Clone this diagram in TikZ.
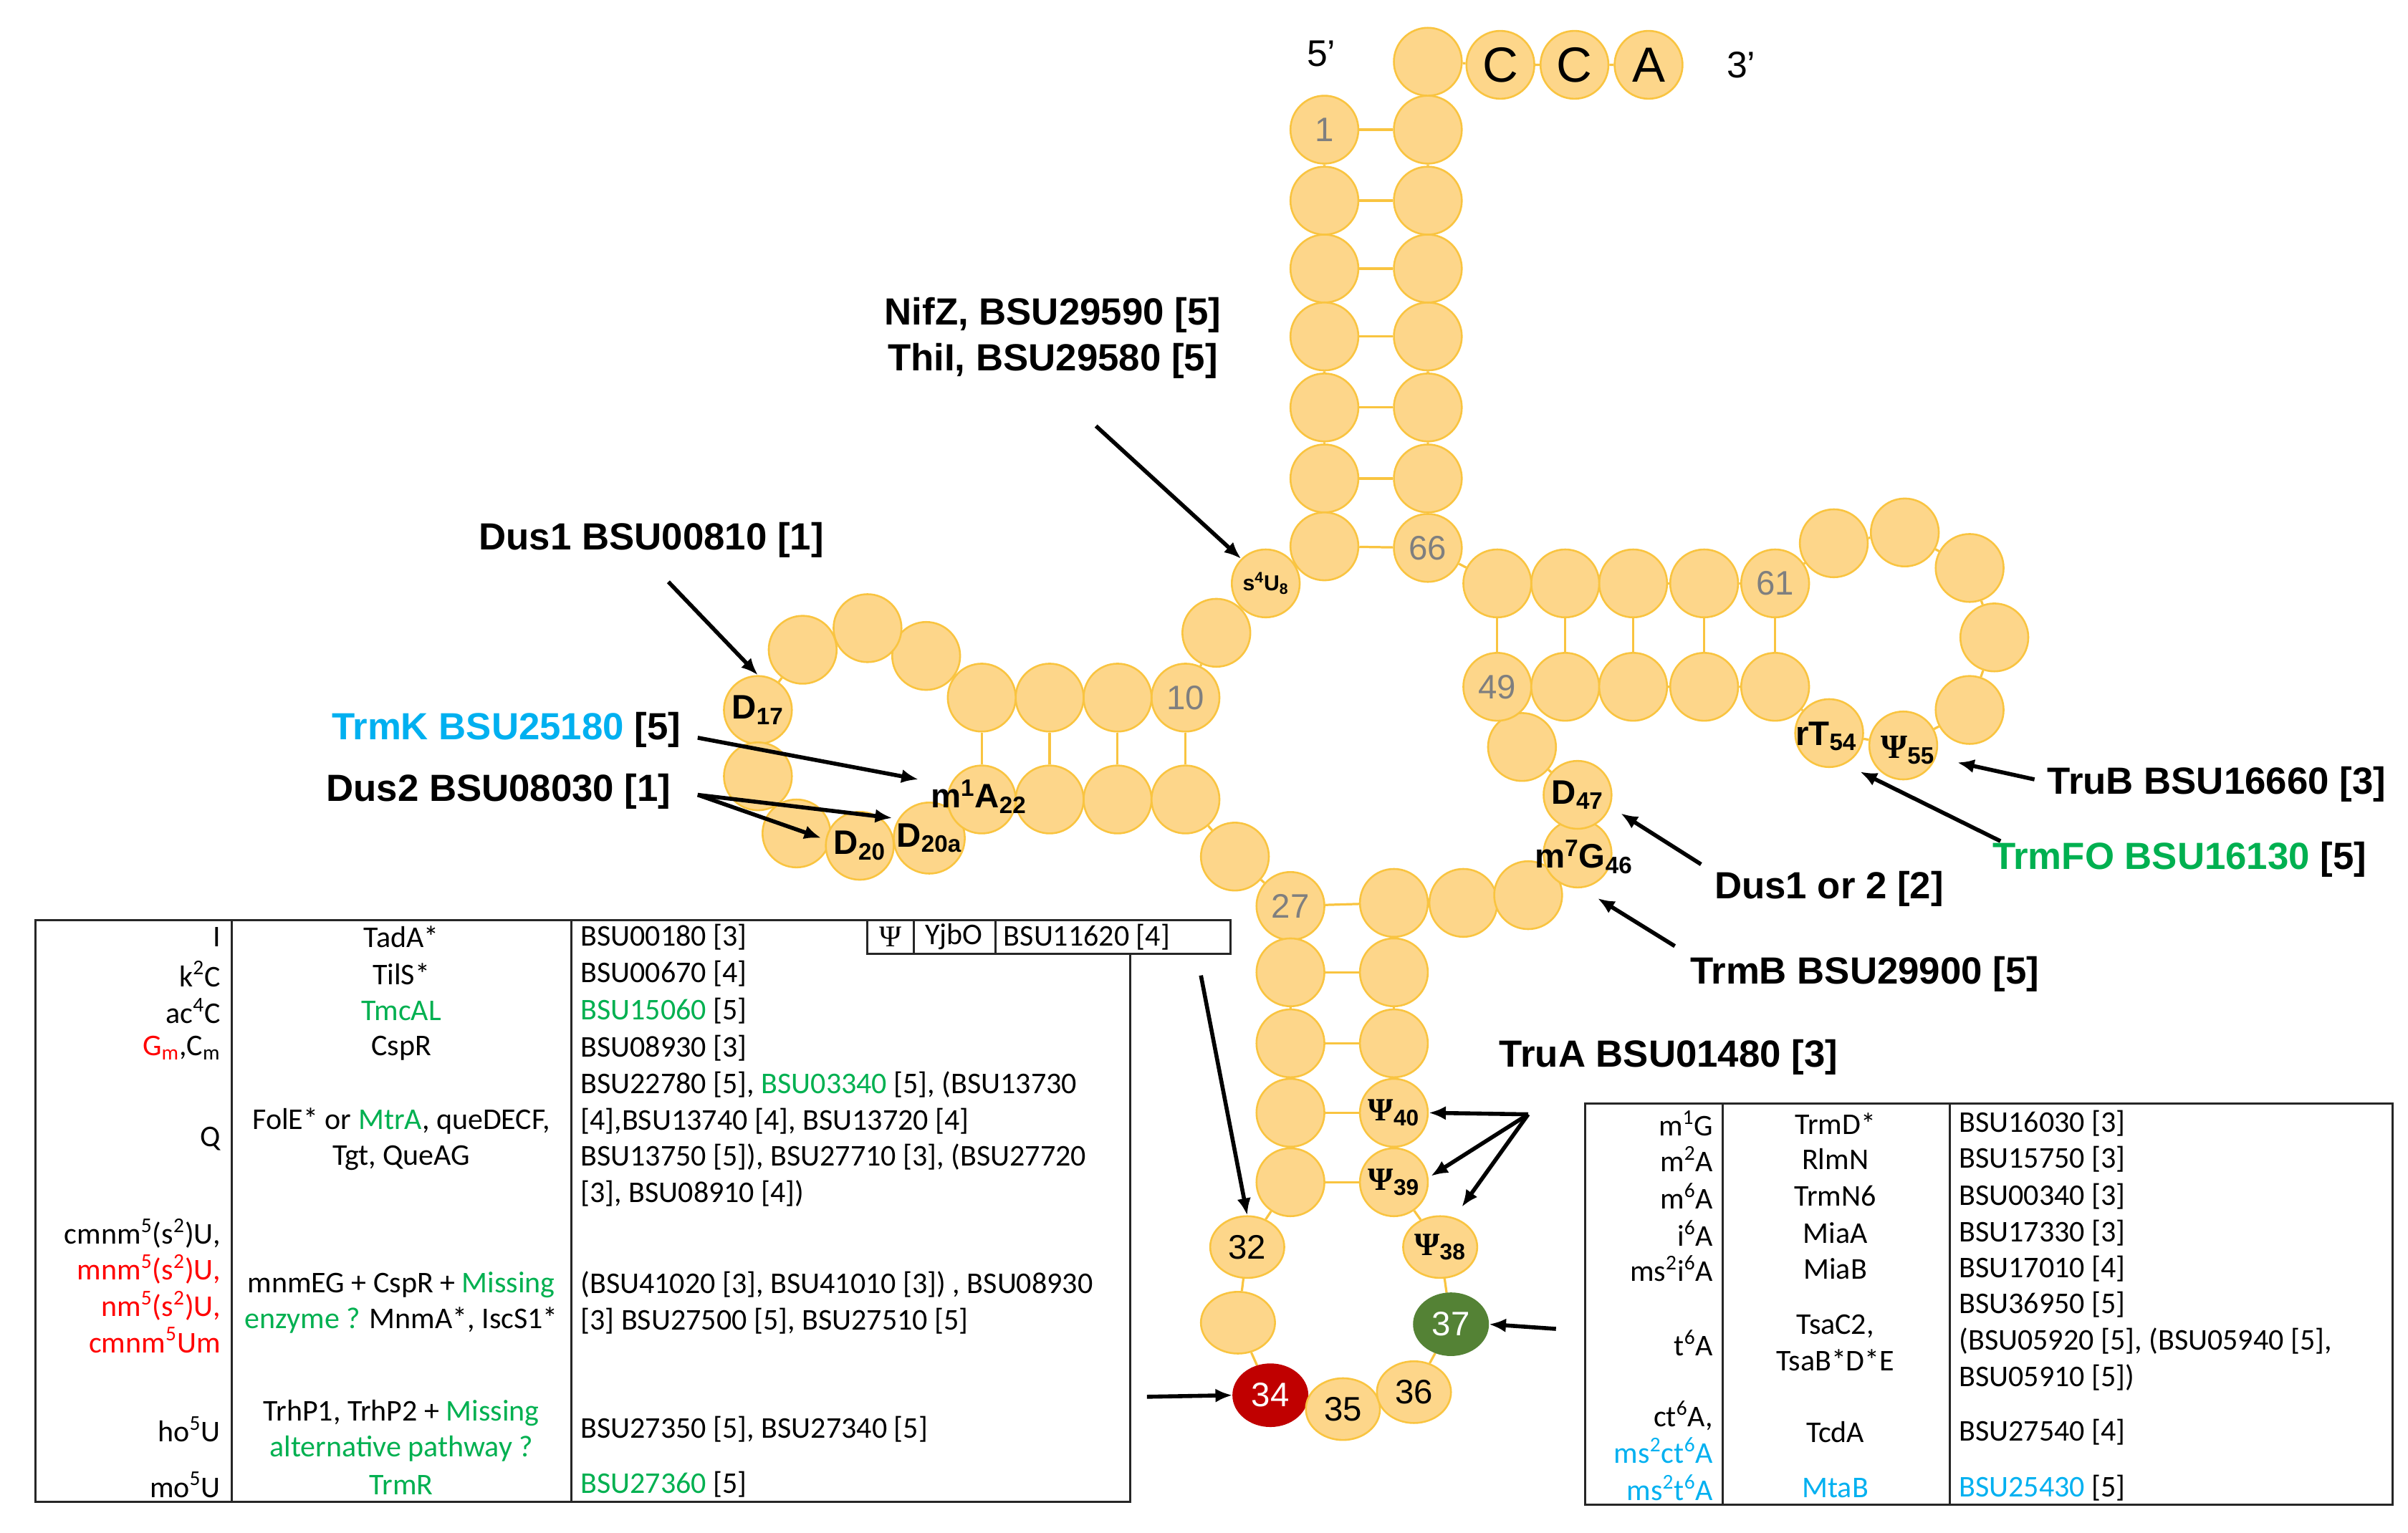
\documentclass[tikz,border=0pt]{standalone}
\usepackage{fontspec}
\setmainfont{Liberation Sans}
\newfontfamily\tabf{Carlito}
\newfontfamily\psif{Liberation Serif}
\usetikzlibrary{backgrounds,shapes.geometric,arrows.meta}
\definecolor{nfill}{HTML}{FDD68A}
\definecolor{nline}{HTML}{F9C440}
\definecolor{tgreen}{HTML}{00B050}
\definecolor{tcyan}{HTML}{00B0F0}
\definecolor{tred}{HTML}{FF0000}
\definecolor{ngray}{HTML}{7F7F7F}
\definecolor{dred}{HTML}{C00000}
\definecolor{dgreen}{HTML}{548235}
\newcommand{\psis}{{\psif Ψ}}
\begin{document}
\begin{tikzpicture}[x=1pt,y=-1pt,
  nt/.style={circle,minimum size=44pt,inner sep=0pt,fill=nfill,draw=nline,line width=1.2pt,font=\fontsize{22}{22}\selectfont\color{ngray}},
  ac/.style={ellipse,minimum width=48pt,minimum height=40pt,inner sep=0pt,fill=nfill,draw=nline,line width=1.2pt,font=\fontsize{22}{22}\selectfont},
  bb/.style={draw=nline,line width=1.5pt},
  lab/.style={font=\fontsize{24.5}{30}\selectfont\bfseries,align=center,inner sep=0pt},
  mod/.style={font=\fontsize{22}{22}\selectfont\bfseries,inner sep=0pt,text=black},
  arr/.style={-{Latex[length=11pt,width=9pt]},line width=2.6pt},
  tx/.style={font=\tabf\fontsize{19.5}{23.5}\selectfont,inner sep=0pt},
  tl/.style={tx,anchor=east,align=right},
  tc/.style={tx,align=center},
  tr/.style={tx,anchor=west,align=left},
  box/.style={draw=black!85,line width=1.4pt}]
\useasboundingbox (0,0) rectangle (1560,993);
% acceptor stem
\node[nt] (n1) at (858,84) {1};
\node[nt] (n2) at (858,130) {};
\node[nt] (n3) at (858,174) {};
\node[nt] (n4) at (858,218) {};
\node[nt] (n5) at (858,264) {};
\node[nt] (n6) at (858,310) {};
\node[nt] (n7) at (858,354) {};
\node[nt,text=black,font=\fontsize{14}{14}\selectfont\bfseries] (n8) at (820,378) {s\textsuperscript{4}U\textsubscript{8}};
\node[nt] (n9) at (788,410) {};
\node[nt] (n10) at (768,452) {10};
\node[nt] (n11) at (724,452) {};
\node[nt] (n12) at (680,452) {};
\node[nt] (n13) at (636,452) {};
\node[nt] (n14) at (600,425) {};
\node[nt] (n15) at (562,407) {};
\node[nt] (n16) at (520,421) {};
\node[nt,text=black,font=\fontsize{22}{22}\selectfont\bfseries] (n17) at (491,460) {D\textsubscript{17}};
\node[nt] (n18) at (491,503) {};
\node[nt] (n19) at (516,540) {};
\node[nt,text=black,font=\fontsize{22}{22}\selectfont\bfseries] (n20) at (557,548) {D\textsubscript{20}};
\node[nt,text=black,font=\fontsize{22}{22}\selectfont\bfseries] (n20a) at (602,543) {D\textsubscript{20a}};
\node[nt] (n22) at (636,518) {};
\node[nt] (n23) at (680,518) {};
\node[nt] (n24) at (724,518) {};
\node[nt] (n25) at (768,518) {};
\node[nt] (n26) at (800,555) {};
\node[nt] (n27) at (836,587) {27};
\node[nt] (n28) at (836,630) {};
\node[nt] (n29) at (836,676) {};
\node[nt] (n30) at (836,721) {};
\node[nt] (n31) at (836,766) {};
\node[ac] (n32) at (808,808) {32};
\node[ac] (n33) at (802,857) {};
\node[ac,fill=dred,draw=dred,text=white] (n34) at (823,904) {34};
\node[ac] (n35) at (870,913) {35};
\node[ac] (n36) at (916,902) {36};
\node[ac,fill=dgreen,draw=dgreen,text=white] (n37) at (940,858) {37};
\node[ac,font=\fontsize{21}{21}\selectfont\bfseries] (n38) at (933,808) {\psis\textsubscript{38}};
\node[nt,text=black,font=\fontsize{21}{21}\selectfont\bfseries] (n39) at (903,766) {\psis\textsubscript{39}};
\node[nt,text=black,font=\fontsize{21}{21}\selectfont\bfseries] (n40) at (903,721) {\psis\textsubscript{40}};
\node[nt] (n41) at (903,676) {};
\node[nt] (n42) at (903,630) {};
\node[nt] (n43) at (903,585) {};
\node[nt] (n44) at (948,585) {};
\node[nt] (n45) at (990,580) {};
\node[nt] (n46) at (1022,553) {};
\node[nt,text=black,font=\fontsize{22}{22}\selectfont\bfseries] (n47) at (1022,515) {D\textsubscript{47}};
\node[nt] (n48) at (986,484) {};
\node[nt] (n49) at (970,445) {49};
\node[nt] (n50) at (1014,445) {};
\node[nt] (n51) at (1058,445) {};
\node[nt] (n52) at (1104,445) {};
\node[nt] (n53) at (1150,445) {};
\node[nt] (n54) at (1185,475) {};
\node[nt] (n55) at (1233,483) {};
\node[nt] (n56) at (1276,460) {};
\node[nt] (n57) at (1292,413) {};
\node[nt] (n58) at (1276,368) {};
\node[nt] (n59) at (1234,345) {};
\node[nt] (n60) at (1188,352) {};
\node[nt] (n61) at (1150,378) {61};
\node[nt] (n62) at (1104,378) {};
\node[nt] (n63) at (1058,378) {};
\node[nt] (n64) at (1014,378) {};
\node[nt] (n65) at (970,378) {};
\node[nt] (n66) at (925,355) {66};
\node[nt] (n67) at (925,310) {};
\node[nt] (n68) at (925,264) {};
\node[nt] (n69) at (925,218) {};
\node[nt] (n70) at (925,174) {};
\node[nt] (n71) at (925,130) {};
\node[nt] (n72) at (925,84) {};
\node[nt] (n73) at (925,40) {};
\node[nt,text=black,font=\fontsize{32}{32}\selectfont] (n74) at (972,42) {C};
\node[nt,text=black,font=\fontsize{32}{32}\selectfont] (n75) at (1020,42) {C};
\node[nt,text=black,font=\fontsize{32}{32}\selectfont] (n76) at (1068,42) {A};
% modification labels overlapping circles
\node[mod] (m22) at (634,516) {m\textsuperscript{1}A\textsubscript{22}};
\node[mod] (m46) at (1026,555) {m\textsuperscript{7}G\textsubscript{46}};
\node[mod] (m54) at (1183,477) {rT\textsubscript{54}};
\node[mod] (m55) at (1236,486) {\psis\textsubscript{55}};
\node[font=\fontsize{24}{24}\selectfont,inner sep=0pt] (p5) at (856,35) {5’};
\node[font=\fontsize{24}{24}\selectfont,inner sep=0pt] (p3) at (1128,42) {3’};
% backbone and pairs
\begin{scope}[on background layer]
\draw[bb] (n1)--(n2)--(n3)--(n4)--(n5)--(n6)--(n7)--(n8)--(n9)--(n10)--(n11)--(n12)--(n13)--(n14)--(n15)--(n16)--(n17)--(n18)--(n19)--(n20)--(n20a)--(n22)--(n23)--(n24)--(n25)--(n26)--(n27)--(n28)--(n29)--(n30)--(n31)--(n32)--(n33)--(n34)--(n35)--(n36)--(n37)--(n38)--(n39)--(n40)--(n41)--(n42)--(n43)--(n44)--(n45)--(n46)--(n47)--(n48)--(n49)--(n50)--(n51)--(n52)--(n53)--(n54)--(n55)--(n56)--(n57)--(n58)--(n59)--(n60)--(n61)--(n62)--(n63)--(n64)--(n65)--(n66)--(n67)--(n68)--(n69)--(n70)--(n71)--(n72)--(n73)--(n74)--(n75)--(n76);
\foreach \a/\b in {n1/n72,n2/n71,n3/n70,n4/n69,n5/n68,n6/n67,n7/n66,n10/n25,n11/n24,n12/n23,n13/n22,n27/n43,n28/n42,n29/n41,n30/n40,n31/n39,n49/n65,n50/n64,n51/n63,n52/n62,n53/n61}
  \draw[bb] (\a)--(\b);
\end{scope}
% enzyme labels and arrows
\node[lab] (nif) at (682,219) {NifZ, BSU29590 [5]\\ThiI, BSU29580 [5]};
\coordinate (nifa) at (710,276);
\draw[arr] (nifa) -- (n8.north west);
\node[lab] (dus1) at (422,350) {Dus1 BSU00810 [1]};
\coordinate (dus1a) at (433,377);
\draw[arr] (dus1a) -- (n17.north);
\node[lab] (trmk) at (328,473) {\textcolor{tcyan}{TrmK BSU25180} [5]};
\coordinate (trmka) at (452,478);
\coordinate (trmkb) at (595,505);
\draw[arr] (trmka) -- (trmkb);
\node[lab] (dus2) at (323,513) {Dus2 BSU08030 [1]};
\coordinate (dus2a) at (452,515);
\coordinate (dus2b) at (532,543);
\coordinate (dus2c) at (578,530);
\draw[arr] (dus2a) -- (dus2b);
\draw[arr] (dus2a) -- (dus2c);
\node[lab] (trub) at (1436,508) {TruB BSU16660 [3]};
\coordinate (truba) at (1318,505);
\coordinate (trubb) at (1268,494);
\draw[arr] (truba) -- (trubb);
\node[lab] (trmfo) at (1412,557) {\textcolor{tgreen}{TrmFO BSU16130} [5]};
\coordinate (trmfoa) at (1296,545);
\coordinate (trmfob) at (1205,500);
\draw[arr] (trmfoa) -- (trmfob);
\node[lab] (dus12) at (1185,576) {Dus1 or 2 [2]};
\coordinate (dus12a) at (1102,560);
\coordinate (dus12b) at (1050,527);
\draw[arr] (dus12a) -- (dus12b);
\node[lab] (trmb) at (1208,631) {TrmB BSU29900 [5]};
\coordinate (trmba) at (1085,613);
\coordinate (trmbb) at (1035,582);
\draw[arr] (trmba) -- (trmbb);
\node[lab] (trua) at (1081,685) {TruA BSU01480 [3]};
\coordinate (truaa) at (990,722);
\coordinate (truab) at (927,762);
\coordinate (truac) at (947,782);
\draw[arr] (truaa) -- (n40.east);
\draw[arr] (truaa) -- (truab);
\draw[arr] (truaa) -- (truac);
\coordinate (a37) at (1008,861);
\draw[arr] (a37) -- (n37.east);
\coordinate (a34) at (743,905);
\draw[arr] (a34) -- (n34.west);
\coordinate (a32) at (778,632);
\draw[arr] (a32) -- (n32.north);
% left table
\draw[box] (23,596) rectangle (732,973);
\draw[box] (150,596) -- (150,973);
\draw[box] (370,596) -- (370,973);
\draw[box,fill=white] (562,596) rectangle (797,618);
\draw[box] (592,596) -- (592,618);
\draw[box] (645,596) -- (645,618);
\node[tc] (psi) at (577,607) {\psis};
\node[tc] (yjbo) at (618,607) {YjbO};
\node[tr] (bsu11620) at (650,607) {BSU11620 [4]};
\node[tl] (l1a) at (143,607) {I};
\node[tc] (l1b) at (260,607) {TadA*};
\node[tr] (l1c) at (376,607) {BSU00180 [3]};
\node[tl] (l2a) at (143,631) {k\textsuperscript{2}C};
\node[tc] (l2b) at (260,631) {TilS*};
\node[tr] (l2c) at (376,631) {BSU00670 [4]};
\node[tl] (l3a) at (143,655) {ac\textsuperscript{4}C};
\node[tc,text=tgreen] (l3b) at (260,655) {TmcAL};
\node[tr] (l3c) at (376,655) {\textcolor{tgreen}{BSU15060} [5]};
\node[tl] (l4a) at (143,679) {\textcolor{tred}{G\textsubscript{m}},C\textsubscript{m}};
\node[tc] (l4b) at (260,679) {CspR};
\node[tr] (l4c) at (376,679) {BSU08930 [3]};
\node[tl] (l5a) at (143,738) {Q};
\node[tc] (l5b) at (260,738) {FolE* or \textcolor{tgreen}{MtrA}, queDECF,\\Tgt, QueAG};
\node[tr] (l5c) at (376,738) {BSU22780 [5], \textcolor{tgreen}{BSU03340} [5], (BSU13730\\{}[4],BSU13740 [4], BSU13720 [4]\\BSU13750 [5]), BSU27710 [3], (BSU27720\\{}[3], BSU08910 [4])};
\node[tl] (l6a) at (143,833) {cmnm\textsuperscript{5}(s\textsuperscript{2})U,\\\textcolor{tred}{mnm\textsuperscript{5}(s\textsuperscript{2})U,}\\\textcolor{tred}{nm\textsuperscript{5}(s\textsuperscript{2})U,}\\\textcolor{tred}{cmnm\textsuperscript{5}Um}};
\node[tc] (l6b) at (260,844) {mnmEG + CspR + \textcolor{tgreen}{Missing}\\\textcolor{tgreen}{enzyme ?} MnmA*, IscS1*};
\node[tr] (l6c) at (376,844) {(BSU41020 [3], BSU41010 [3]) , BSU08930\\{}[3] BSU27500 [5], BSU27510 [5]};
\node[tl] (l7a) at (143,926) {ho\textsuperscript{5}U};
\node[tc] (l7b) at (260,927) {TrhP1, TrhP2 + \textcolor{tgreen}{Missing}\\\textcolor{tgreen}{alternative pathway ?}};
\node[tr] (l7c) at (376,926) {BSU27350 [5], BSU27340 [5]};
\node[tl] (l8a) at (143,962) {mo\textsuperscript{5}U};
\node[tc,text=tgreen] (l8b) at (260,962) {TrmR};
\node[tr] (l8c) at (376,962) {\textcolor{tgreen}{BSU27360} [5]};
% right table
\draw[box] (1027,715) rectangle (1550,975);
\draw[box] (1116,715) -- (1116,975);
\draw[box] (1263,715) -- (1263,975);
\node[tl] (r1a) at (1110,728) {m\textsuperscript{1}G};
\node[tc] (r1b) at (1189,728) {TrmD*};
\node[tr] (r1c) at (1269,728) {BSU16030 [3]};
\node[tl] (r2a) at (1110,751) {m\textsuperscript{2}A};
\node[tc] (r2b) at (1189,751) {RlmN};
\node[tr] (r2c) at (1269,751) {BSU15750 [3]};
\node[tl] (r3a) at (1110,775) {m\textsuperscript{6}A};
\node[tc] (r3b) at (1189,775) {TrmN6};
\node[tr] (r3c) at (1269,775) {BSU00340 [3]};
\node[tl] (r4a) at (1110,799) {i\textsuperscript{6}A};
\node[tc] (r4b) at (1189,799) {MiaA};
\node[tr] (r4c) at (1269,799) {BSU17330 [3]};
\node[tl] (r5a) at (1110,822) {ms\textsuperscript{2}i\textsuperscript{6}A};
\node[tc] (r5b) at (1189,822) {MiaB};
\node[tr] (r5c) at (1269,822) {BSU17010 [4]};
\node[tl] (r6a) at (1110,870) {t\textsuperscript{6}A};
\node[tc] (r6b) at (1189,870) {TsaC2,\\TsaB*D*E};
\node[tr] (r6c) at (1269,869) {BSU36950 [5]\\(BSU05920 [5], (BSU05940 [5],\\BSU05910 [5])};
\node[tl] (r7a) at (1110,928) {ct\textsuperscript{6}A,\\\textcolor{tcyan}{ms\textsuperscript{2}ct\textsuperscript{6}A}};
\node[tc] (r7b) at (1189,928) {TcdA};
\node[tr] (r7c) at (1269,928) {BSU27540 [4]};
\node[tl,text=tcyan] (r8a) at (1110,964) {ms\textsuperscript{2}t\textsuperscript{6}A};
\node[tc,text=tcyan] (r8b) at (1189,964) {MtaB};
\node[tr] (r8c) at (1269,964) {\textcolor{tcyan}{BSU25430} [5]};
\end{tikzpicture}
\end{document}
